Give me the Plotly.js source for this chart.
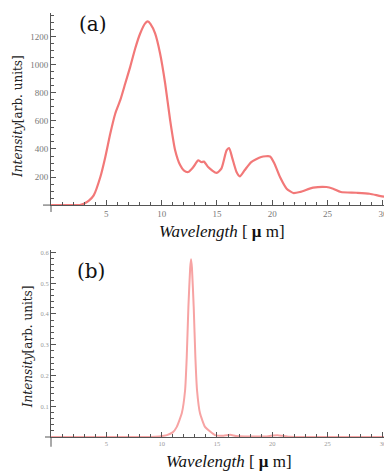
<!DOCTYPE html>
<html><head><meta charset="utf-8">
<script src="https://cdn.plot.ly/plotly-3.0.1.min.js"></script>
<style>html,body{margin:0;padding:0;background:#fff}#p{width:384px;height:472px}</style>
</head><body><div id="p"></div>
<script>
// Panel (a) spectrum
const wlA = [0, 1, 2, 2.6, 2.96, 3.4, 3.86, 4.46, 4.91, 5.36, 5.81, 6.26, 6.71, 7.16, 7.61, 8.06, 8.51, 8.75, 9.0, 9.41, 9.86, 10.32, 10.77, 11.22, 11.67, 12.0, 12.4, 12.86, 13.3, 13.6, 13.83, 14.2, 14.97, 15.4, 15.87, 16.1, 16.4, 16.77, 17.07, 17.5, 18.1, 19.0, 19.8, 20.2, 20.7, 21.3, 21.9, 22.5, 23.7, 24.9, 25.5, 26.2, 27.6, 28.8, 29.8, 30.2];
const intA = [0, 0, 0, 0, 10, 30, 69, 200, 343, 510, 653, 748, 867, 986, 1117, 1224, 1296, 1310, 1290, 1224, 1081, 867, 605, 391, 285, 248, 236, 271, 319, 307, 310, 271, 229, 260, 390, 407, 331, 236, 205, 248, 307, 343, 347, 295, 200, 117, 86, 93, 124, 129, 117, 93, 88, 81, 64, 60];
// Panel (b) spectrum
const wlB = [0, 5, 9, 9.8, 10.47, 11.0, 11.37, 11.82, 12.12, 12.27, 12.42, 12.58, 12.66, 12.74, 12.9, 13.05, 13.2, 13.47, 13.92, 14.82, 15.6, 16.2, 16.7, 17.5, 19.5, 20.1, 20.5, 20.9, 21.5, 25, 30.2];
const intB = [0, 0, 0, 0.002, 0.006, 0.015, 0.033, 0.077, 0.152, 0.26, 0.423, 0.55, 0.578, 0.55, 0.423, 0.26, 0.152, 0.077, 0.033, 0.006, 0.004, 0.007, 0.003, 0.002, 0.002, 0.005, 0.006, 0.004, 0.001, 0, 0];
const xTicks = [5, 10, 15, 20, 25, 30];

const axisCol = '#555';
const tickFontA = {family: 'Liberation Serif', size: 9, color: '#777'};
const tickFontB = {family: 'Liberation Serif', size: 6.5, color: '#999'};

const traces = [
  {x: wlA, y: intA, type: 'scatter', mode: 'lines', xaxis: 'x', yaxis: 'y',
   line: {color: '#f27878', width: 2.2, shape: 'spline', smoothing: 0.6}, hoverinfo: 'skip'},
  {x: wlB, y: intB, type: 'scatter', mode: 'lines', xaxis: 'x2', yaxis: 'y2',
   line: {color: '#f7a3a3', width: 2, shape: 'spline', smoothing: 0.4}, hoverinfo: 'skip'}
];

function xax(domainAnchor, tf) {
  return {domain: [0, 1], anchor: domainAnchor, range: [0, 30.1], tickvals: xTicks, ticktext: xTicks.map(String),
    showgrid: false, zeroline: false, showline: true, linecolor: axisCol, linewidth: 1, ticklabeloverflow: 'allow',
    ticks: 'inside', ticklen: 5, tickcolor: axisCol, tickfont: tf,
    minor: {dtick: 1, tick0: 0, ticks: 'inside', ticklen: 3, tickcolor: axisCol}};
}
const layout = {
  width: 384, height: 472, margin: {l: 51, r: 0, t: 13, b: 35},
  paper_bgcolor: '#fff', plot_bgcolor: '#fff', showlegend: false,
  xaxis: xax('y', tickFontA),
  yaxis: {domain: [0.547, 1], anchor: 'x', range: [0, 1370],
    tickvals: [200, 400, 600, 800, 1000, 1200],
    showgrid: false, zeroline: false, showline: true, linecolor: axisCol, linewidth: 1,
    ticks: 'inside', ticklen: 5, tickcolor: axisCol, tickfont: tickFontA,
    minor: {dtick: 50, tick0: 0, ticks: 'inside', ticklen: 3, tickcolor: axisCol}},
  xaxis2: xax('y2', tickFontB),
  yaxis2: {domain: [0, 0.441], anchor: 'x2', range: [0, 0.608],
    tickvals: [0.1, 0.2, 0.3, 0.4, 0.5, 0.6],
    showgrid: false, zeroline: false, showline: true, linecolor: axisCol, linewidth: 1,
    ticks: 'inside', ticklen: 5, tickcolor: axisCol, tickfont: tickFontB,
    minor: {dtick: 0.02, tick0: 0, ticks: 'inside', ticklen: 3, tickcolor: axisCol}},
  shapes: [
    {type: 'line', xref: 'paper', yref: 'paper', x0: -0.024, x1: 0, y0: 0.547, y1: 0.547, line: {color: axisCol, width: 1}},
    {type: 'line', xref: 'paper', yref: 'paper', x0: 0, x1: 0, y0: 0.5307, y1: 0.547, line: {color: axisCol, width: 1}},
    {type: 'line', xref: 'paper', yref: 'paper', x0: -0.018, x1: 0, y0: 0, y1: 0, line: {color: axisCol, width: 1}},
    {type: 'line', xref: 'paper', yref: 'paper', x0: 0, x1: 0, y0: -0.023, y1: 0, line: {color: axisCol, width: 1}}
  ],
  annotations: [
    {text: '(a)', xref: 'paper', yref: 'paper', x: 0.126, y: 0.974, xanchor: 'center', yanchor: 'middle', showarrow: false,
     font: {family: 'DejaVu Serif', size: 20, color: '#111'}},
    {text: '(b)', xref: 'paper', yref: 'paper', x: 0.12, y: 0.3915, xanchor: 'center', yanchor: 'middle', showarrow: false,
     font: {family: 'DejaVu Serif', size: 20, color: '#111'}},
    {text: '<i>Wavelength</i> [ <b>μ</b> m]', xref: 'paper', yref: 'paper', x: 0.513, y: 0.4835, xanchor: 'center', yanchor: 'middle', showarrow: false,
     font: {family: 'Liberation Serif', size: 17, color: '#111'}},
    {text: '<i>Wavelength</i> [ <b>μ</b> m]', xref: 'paper', yref: 'paper', x: 0.535, y: -0.058, xanchor: 'center', yanchor: 'middle', showarrow: false,
     font: {family: 'Liberation Serif', size: 17, color: '#111'}},
    {text: '<i>Intensity</i>[arb. units]', xref: 'paper', yref: 'paper', x: -0.099, y: 0.755, xanchor: 'center', yanchor: 'middle', showarrow: false, textangle: -90,
     font: {family: 'DejaVu Serif', size: 12, color: '#222'}},
    {text: '<i>Intensity</i>[arb. units]', xref: 'paper', yref: 'paper', x: -0.069, y: 0.212, xanchor: 'center', yanchor: 'middle', showarrow: false, textangle: -90,
     font: {family: 'DejaVu Serif', size: 12, color: '#222'}}
  ]
};
Plotly.newPlot('p', traces, layout, {staticPlot: true, displayModeBar: false});
</script></body></html>
